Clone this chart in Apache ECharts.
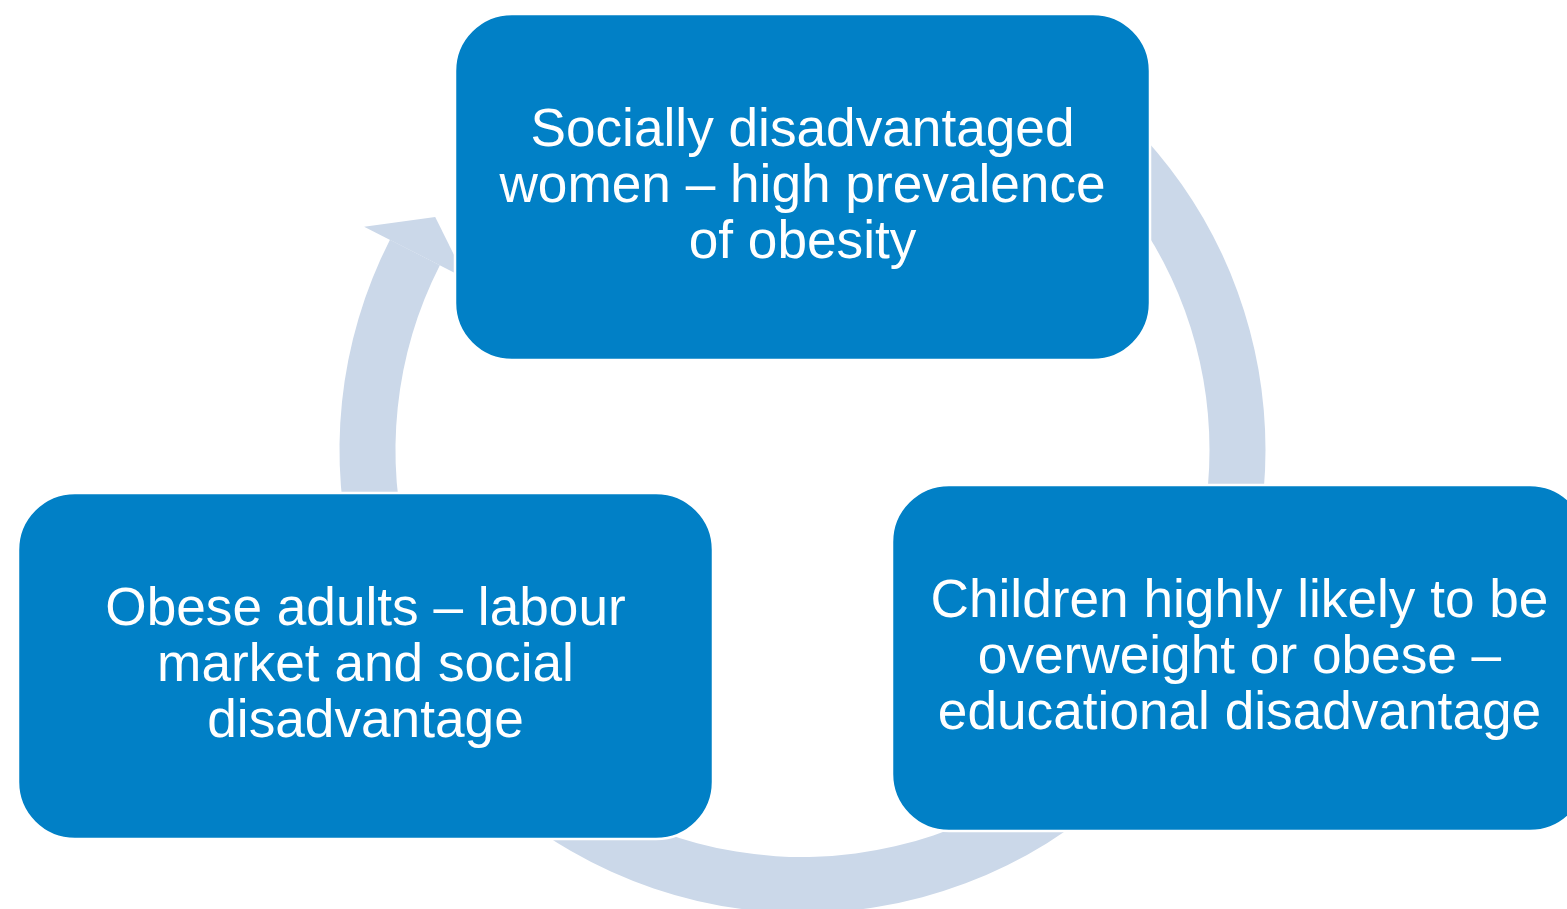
<!DOCTYPE html>
<html>
<head>
<meta charset="utf-8">
<script src="https://cdn.jsdelivr.net/npm/echarts@6/dist/echarts.min.js"></script>
<style>
html,body{margin:0;padding:0;background:#fff;}
#main{width:1567px;height:909px;}
</style>
</head>
<body>
<div id="main"></div>
<script>
// ---- content (cycle steps, in clockwise order starting at the top) ----
const stepLabels = [
  'Socially disadvantaged\nwomen \u2013 high prevalence\nof obesity',
  'Children highly likely to be\noverweight or obese \u2013\neducational disadvantage',
  'Obese adults \u2013 labour\nmarket and social\ndisadvantage'
];
// arrow from step i to step (i+1): start / end angle of the arc (degrees, screen, clockwise)
const arcStartDeg = [300, 30, 165];
const arcEndDeg   = [380, 150, 207];

// ---- layout ----
const ring = { cx: 802.5, cy: 450, r0: 407, r: 463 };
const boxW = 695, boxH = 346, boxR = 57;
const boxCenters = [[802.5, 187], [1239.5, 658], [365.5, 666]];
const boxColor = '#0180C6';
const ringColor = '#CBD8E9';

const rad = d => d * Math.PI / 180;
const pol = (deg, r) => [ring.cx + r * Math.cos(rad(deg)), ring.cy + r * Math.sin(rad(deg))];

const elements = [];
const rMid = (ring.r + ring.r0) / 2;
const barb = 29, tipDeg = 5.4;
for (let i = 0; i < stepLabels.length; i++) {
  elements.push({
    type: 'sector', z: 1, silent: true,
    shape: { cx: ring.cx, cy: ring.cy, r: ring.r, r0: ring.r0,
             startAngle: rad(arcStartDeg[i]), endAngle: rad(arcEndDeg[i]), clockwise: true },
    style: { fill: ringColor }
  });
  elements.push({
    type: 'polygon', z: 1, silent: true,
    shape: { points: [
      pol(arcEndDeg[i], ring.r + barb),
      pol(arcEndDeg[i] + tipDeg, rMid),
      pol(arcEndDeg[i], ring.r0 - barb)
    ] },
    style: { fill: ringColor }
  });
}
stepLabels.forEach((label, i) => {
  const [bx, by] = boxCenters[i];
  elements.push({
    type: 'rect', z: 2, silent: true,
    shape: { x: bx - boxW / 2, y: by - boxH / 2, width: boxW, height: boxH, r: boxR },
    style: { fill: boxColor, stroke: '#ffffff', lineWidth: 2.5 }
  });
  elements.push({
    type: 'text', z: 3, silent: true,
    x: bx, y: by,
    style: {
      text: label, fill: '#ffffff',
      fontSize: 53.2, fontFamily: '"Liberation Sans", Arial, sans-serif',
      lineHeight: 56, align: 'center', verticalAlign: 'middle'
    }
  });
});

const chart = echarts.init(document.getElementById('main'), null, { renderer: 'canvas' });
chart.setOption({
  backgroundColor: '#ffffff',
  animation: false,
  graphic: { elements: elements }
});
</script>
</body>
</html>
